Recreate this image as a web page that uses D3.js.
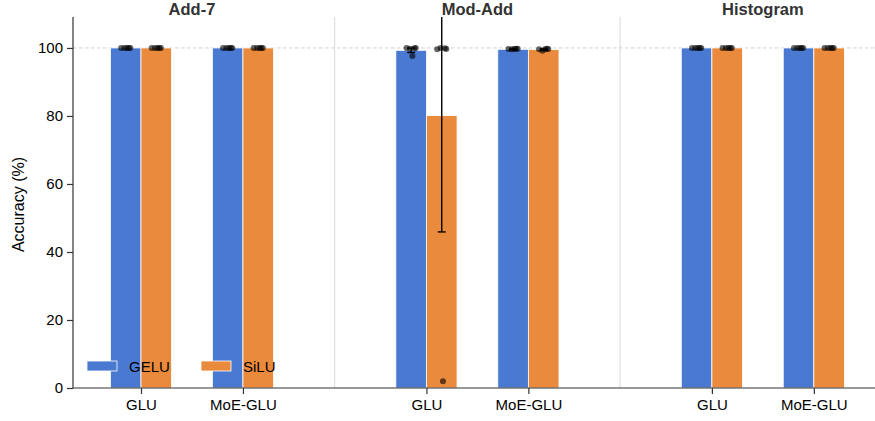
<!DOCTYPE html>
<html>
<head>
<meta charset="utf-8">
<script src="https://cdn.jsdelivr.net/npm/d3@7/dist/d3.min.js"></script>
<style>
  html, body { margin: 0; padding: 0; background: #fff; }
  svg { display: block; }
  svg text { font-family: "Liberation Sans", Arial, sans-serif; }
</style>
</head>
<body>
<svg id="chart" width="875" height="421"></svg>
<script>
// Tasks, model variants and activation series
const tasks = ["Add-7", "Mod-Add", "Histogram"];
const models = ["GLU", "MoE-GLU"];
const activations = ["GELU", "SiLU"];
const colors = ["#4a79d1", "#e98a3c"];

// Mean accuracy (%) per task × model, one array per activation
const geluMean = [100, 100, 99.3, 99.6, 100, 100];
const siluMean = [100, 100, 80.1, 99.5, 100, 100];
// Error-bar half-lengths
const geluErr = [0, 0, 0.65, 0.1, 0, 0];
const siluErr = [0, 0, 34.2, 0.2, 0, 0];
// Per-seed accuracies
const geluSeeds = [
  [100, 100, 100, 100, 100],
  [100, 100, 100, 100, 100],
  [100, 99.9, 99.8, 100, 97.6],
  [99.7, 99.8, 99.6, 99.8, 99.7],
  [100, 100, 100, 100, 100],
  [100, 100, 100, 100, 100]
];
const siluSeeds = [
  [100, 100, 100, 100, 100],
  [100, 100, 100, 100, 100],
  [99.6, 99.9, 100, 99.7, 2.0],
  [99.6, 99.8, 99.2, 99.7, 99.6],
  [100, 100, 100, 100, 100],
  [100, 100, 100, 100, 100]
];
const yTicks = [0, 20, 40, 60, 80, 100];

// Layout
const margin = { left: 73, right: 0, top: 17, bottom: 33 };
const W = 875, H = 421;
const svg = d3.select("#chart");

const taskGap = 2.8;      // spacing between task blocks, in group units
const barW = 0.3;
const seedJitter = [-0.045, 0.03, -0.012, 0.045, 0.012];

const x = d3.scaleLinear().domain([-0.667, 7.2]).range([margin.left, W - margin.right]);
const y = d3.scaleLinear().domain([0, 109.1]).range([H - margin.bottom, margin.top]);

const groups = [];
tasks.forEach((t, ti) => models.forEach((m, mi) => {
  groups.push({ task: t, model: m, pos: ti * taskGap + mi, idx: groups.length });
}));

const series = [
  { name: activations[0], mean: geluMean, err: geluErr, seeds: geluSeeds, off: -barW / 2, color: colors[0] },
  { name: activations[1], mean: siluMean, err: siluErr, seeds: siluSeeds, off: barW / 2, color: colors[1] }
];

svg.append("defs").append("clipPath").attr("id", "plot-clip")
  .append("rect")
  .attr("x", margin.left).attr("y", margin.top)
  .attr("width", W - margin.left - margin.right)
  .attr("height", H - margin.top - margin.bottom);

const plot = svg.append("g").attr("clip-path", "url(#plot-clip)");

// Task separators
[(1 + taskGap) / 2, taskGap + (1 + taskGap) / 2].forEach(v => {
  plot.append("line")
    .attr("x1", x(v)).attr("x2", x(v))
    .attr("y1", margin.top).attr("y2", H - margin.bottom)
    .attr("stroke", "#d9d9d9").attr("stroke-width", 1);
});

// Reference line at 100%
plot.append("line")
  .attr("x1", margin.left).attr("x2", W - margin.right)
  .attr("y1", y(100)).attr("y2", y(100))
  .attr("stroke", "#c8c8c8").attr("stroke-width", 0.8)
  .attr("stroke-dasharray", "3.5,2.5");

// Bars
series.forEach(s => {
  plot.selectAll(null).data(groups).enter().append("rect")
    .attr("x", g => x(g.pos + s.off - barW / 2))
    .attr("width", x(barW) - x(0))
    .attr("y", g => y(s.mean[g.idx]))
    .attr("height", g => y(0) - y(s.mean[g.idx]))
    .attr("fill", s.color)
    .attr("stroke", "#fff").attr("stroke-width", 0.8);
});

// Error bars
series.forEach(s => {
  groups.filter(g => s.err[g.idx] > 0).forEach(g => {
    const cx = x(g.pos + s.off);
    const lo = y(s.mean[g.idx] - s.err[g.idx]);
    const hi = y(s.mean[g.idx] + s.err[g.idx]);
    const e = plot.append("g").attr("stroke", "#000").attr("stroke-width", 1.4);
    e.append("line").attr("x1", cx).attr("x2", cx).attr("y1", lo).attr("y2", hi);
    e.append("line").attr("x1", cx - 4).attr("x2", cx + 4).attr("y1", lo).attr("y2", lo);
    e.append("line").attr("x1", cx - 4).attr("x2", cx + 4).attr("y1", hi).attr("y2", hi);
  });
});

// Individual seeds
series.forEach(s => {
  groups.forEach(g => {
    s.seeds[g.idx].forEach((v, i) => {
      plot.append("circle")
        .attr("cx", x(g.pos + s.off + seedJitter[i]))
        .attr("cy", y(v))
        .attr("r", 3)
        .attr("fill", "#000").attr("fill-opacity", 0.6);
    });
  });
});

// Axes
const axisColor = "#333";
const yAxis = svg.append("g")
  .attr("transform", `translate(${margin.left},0)`)
  .call(d3.axisLeft(y).tickValues(yTicks).tickSize(6).tickPadding(4));
const xAxis = svg.append("g")
  .attr("transform", `translate(0,${H - margin.bottom})`)
  .call(d3.axisBottom(x).tickValues(groups.map(g => g.pos))
    .tickFormat((d, i) => groups[i].model).tickSize(6).tickPadding(5));

[yAxis, xAxis].forEach(a => {
  a.attr("font-family", null).attr("font-size", null);
  a.select(".domain").attr("stroke", axisColor).attr("stroke-width", 1.2);
  a.selectAll(".tick line").attr("stroke", axisColor).attr("stroke-width", 1.2);
  a.selectAll(".tick text").attr("fill", "#000").style("font-size", "15px");
});
yAxis.select(".domain").attr("d", `M0,${y.range()[0]}V${margin.top}`);
xAxis.select(".domain").attr("d", `M${margin.left},0H${W - margin.right}`);

// Y label
svg.append("text")
  .attr("transform", `translate(24,${(margin.top + H - margin.bottom) / 2 + 2}) rotate(-90)`)
  .attr("text-anchor", "middle")
  .style("font-size", "16px")
  .attr("fill", "#000")
  .text("Accuracy (%)");

// Task titles
tasks.forEach((t, ti) => {
  svg.append("text")
    .attr("x", x(ti * taskGap + 0.5))
    .attr("y", 15)
    .attr("text-anchor", "middle")
    .style("font-size", "16.5px").style("font-weight", "bold")
    .attr("fill", "#333")
    .text(t);
});

// Legend
const legend = svg.append("g");
series.forEach((s, i) => {
  const lx = 87 + i * 114;
  legend.append("rect")
    .attr("x", lx).attr("y", 361)
    .attr("width", 30).attr("height", 10)
    .attr("fill", s.color).attr("stroke", "#fff").attr("stroke-width", 0.8);
  legend.append("text")
    .attr("x", lx + 42).attr("y", 371.5)
    .style("font-size", "15px")
    .attr("fill", "#000")
    .text(s.name);
});
</script>
</body>
</html>
